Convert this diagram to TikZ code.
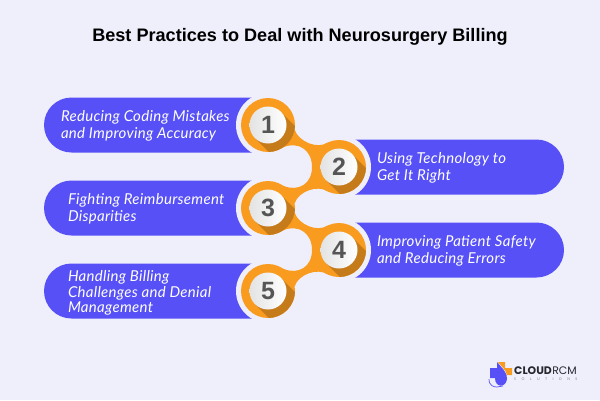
\documentclass[tikz,border=0pt]{standalone}
\usepackage{fontspec}
\setmainfont{Liberation Sans}
\newfontfamily\barfont[LetterSpace=2]{Lato}
\newfontfamily\logofont{Poppins}
\newfontfamily\logosubfont[LetterSpace=150]{Lato}
\usetikzlibrary{positioning,calc}
\definecolor{pagebg}{HTML}{EFEFFC}
\definecolor{barblue}{HTML}{5650F6}
\definecolor{huborange}{HTML}{F99B1E}
\definecolor{hubshade}{HTML}{C57B1A}
\definecolor{numgray}{HTML}{555555}
\definecolor{logoink}{HTML}{26262E}
\tikzstyle{bar} = [rectangle, fill=barblue, minimum width=252pt, minimum height=55pt, rounded corners=27.5pt, inner sep=0pt]
\tikzstyle{bartext} = [text=white, align=left, inner sep=0pt, yshift=-1.2pt, font=\barfont\itshape\fontsize{15}{17}\selectfont]
\tikzstyle{gap} = [circle, fill=pagebg, minimum size=64pt, inner sep=0pt]
\tikzstyle{hub} = [circle, fill=huborange, minimum size=54pt, inner sep=0pt, outer sep=0pt]
\tikzstyle{num} = [circle, left color=gray!22, middle color=white, right color=white, minimum size=37pt, inner sep=0pt, outer sep=0pt, text=numgray, font=\bfseries\fontsize{25}{25}\selectfont]
\tikzstyle{neck} = [fill=huborange]
\tikzstyle{logotext} = [inner sep=0pt, text=logoink, font=\logofont\fontsize{10.9}{11}\selectfont]
\newcommand{\hubcast}[1]{
	\begin{scope}
		\clip (#1) circle (27pt);
		\fill[hubshade] ($(#1)+(13,-13)$) -- ($(#1)+(53,27)$) -- ($(#1)+(27,53)$) -- ($(#1)+(-13,13)$) -- cycle;
	\end{scope}
}

\begin{document}
\begin{tikzpicture}[x=1pt, y=-1pt]
	\useasboundingbox[fill=pagebg] (0,0) rectangle (600,400);
	\node[inner sep=0pt, font=\bfseries\fontsize{18.1}{20}\selectfont] (Title) at (300,37) {Best Practices to Deal with Neurosurgery Billing};

	% Bars
	\node[bar] (BarOne) at (170,125) {};
	\node[bar, right of=BarOne, node distance=268pt, yshift=-42pt] (BarTwo) {};
	\node[bar, below of=BarOne, node distance=83pt] (BarThree) {};
	\node[bar, below of=BarTwo, node distance=83pt] (BarFour) {};
	\node[bar, below of=BarThree, node distance=83pt] (BarFive) {};

	% Gaps round the hubs
	\node[gap, right of=BarOne, node distance=98pt] (GapOne) {};
	\node[gap, left of=BarTwo, node distance=99pt] (GapTwo) {};
	\node[gap, right of=BarThree, node distance=98pt] (GapThree) {};
	\node[gap, left of=BarFour, node distance=99pt] (GapFour) {};
	\node[gap, right of=BarFive, node distance=98pt] (GapFive) {};

	% Hubs
	\node[hub] (One) at (GapOne) {};
	\node[hub] (Two) at (GapTwo) {};
	\node[hub] (Three) at (GapThree) {};
	\node[hub] (Four) at (GapFour) {};
	\node[hub] (Five) at (GapFive) {};

	% Necks
	\path[neck] (One.-10) .. controls +(4,12) and +(-10,7) .. (Two.115) -- (Two.180) .. controls +(0,-17) and +(15,-6) .. (One.-55) -- cycle;
	\path[neck] (Two.245) .. controls +(-10,-7) and +(4,-12) .. (Three.10) -- (Three.55) .. controls +(15,6) and +(0,17) .. (Two.180) -- cycle;
	\path[neck] (Three.-10) .. controls +(4,12) and +(-10,7) .. (Four.115) -- (Four.180) .. controls +(0,-17) and +(15,-6) .. (Three.-55) -- cycle;
	\path[neck] (Four.245) .. controls +(-10,-7) and +(4,-12) .. (Five.10) -- (Five.55) .. controls +(15,6) and +(0,17) .. (Four.180) -- cycle;

	% Numbers
	\hubcast{One}
	\hubcast{Two}
	\hubcast{Three}
	\hubcast{Four}
	\hubcast{Five}
	\node[num] (NumOne) at (One) {1};
	\node[num] (NumTwo) at (Two) {2};
	\node[num] (NumThree) at (Three) {3};
	\node[num] (NumFour) at (Four) {4};
	\node[num] (NumFive) at (Five) {5};

	% Texts
	\node[bartext, right=17pt of BarOne.west] (TextOne) {Reducing Coding Mistakes\\and Improving Accuracy};
	\node[bartext, anchor=west, at={($(BarTwo.west)+(65,0)$)}] (TextTwo) {Using Technology to\\Get It Right};
	\node[bartext, right=24pt of BarThree.west] (TextThree) {Fighting Reimbursement\\Disparities};
	\node[bartext, anchor=west, at={($(BarFour.west)+(65,0)$)}] (TextFour) {Improving Patient Safety\\and Reducing Errors};
	\node[bartext, yshift=-1pt, right=24pt of BarFive.west] (TextFive) {Handling Billing\\[-1.5pt]Challenges and Denial\\[-1.5pt]Management};

	% Logo
	\fill[barblue] (490,368) -- (497,368) -- (497,362) .. controls (501,367) and (508,373) .. (507,379) .. controls (506,388) and (495,388) .. (495,378) -- (490,378) -- cycle;
	\draw[barblue, line width=0.7pt] (489,379) .. controls (489,386) and (494,387) .. (497,387) -- (503,386);
	\fill[huborange] (498,362) -- (505,362) -- (505,368) -- (512,368) -- (512,375) -- (507,375) .. controls (506,370) and (501,366) .. (498,362) -- cycle;
	\node[logotext, anchor=west] (LogoCloud) at (514,371) {\bfseries CLOUD};
	\node[logotext, right=0pt of LogoCloud] (LogoRcm) {RCM};
	\node[logotext, anchor=north west, text=gray, font=\logosubfont\fontsize{3.6}{4}\selectfont] (LogoSub) at (514,377.5) {SOLUTIONS};
\end{tikzpicture}
\end{document}
